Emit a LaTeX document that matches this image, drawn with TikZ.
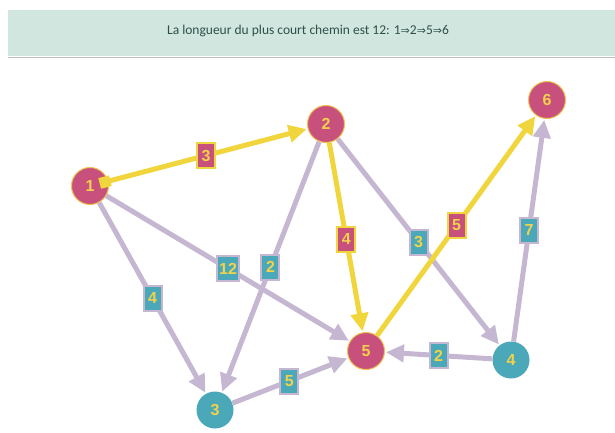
\documentclass[tikz,border=0pt]{standalone}
\usepackage{fontspec}
\setmainfont{Liberation Sans}
\newfontfamily\headfont{Carlito}
\newfontfamily\arrowfont{DejaVu Sans}
\usetikzlibrary{arrows.meta}
\definecolor{bandgreen}{HTML}{D0E6DF}
\definecolor{bandline}{HTML}{BDBDBD}
\definecolor{headtext}{HTML}{2F4F4A}
\definecolor{vred}{HTML}{C8507C}
\definecolor{vteal}{HTML}{4BA8B8}
\definecolor{vyellow}{HTML}{F2D14B}
\definecolor{eyellow}{HTML}{F0D63C}
\definecolor{egray}{HTML}{C5B7D1}
\definecolor{redring}{HTML}{F2C14E}
\newcommand\impl{{\arrowfont\fontsize{11}{12}\selectfont ⇒}}
\tikzset{
  vtx/.style={circle, minimum size=37pt, inner sep=0pt, text=vyellow,
    font=\fontsize{16}{16}\selectfont\bfseries},
  onpath/.style={vtx, fill=vred, draw=redring, line width=1pt},
  offpath/.style={vtx, fill=vteal},
  edge/.style={line width=5pt, draw=egray,
    -{Triangle[length=18pt,width=17pt]}, shorten >=1pt},
  pathedge/.style={line width=5pt, draw=eyellow,
    -{Triangle[length=18pt,width=17pt]}, shorten >=1pt},
  wlabel/.style={rectangle, inner sep=2pt, minimum width=18pt, minimum height=25pt,
    text=vyellow, font=\fontsize{16}{16}\selectfont\bfseries, line width=2pt},
  wgray/.style={wlabel, fill=vteal, draw=egray},
  wpath/.style={wlabel, fill=vred, draw=eyellow},
}
\begin{document}
\begin{tikzpicture}[x=1pt,y=-1pt]
\useasboundingbox (0,0) rectangle (615,432);
% result banner
\fill[bandgreen] (8,10) rectangle (615,56);
\draw[bandline, line width=1.5pt] (8,57.5) -- (615,57.5);
\node[text=headtext, font=\headfont\fontsize{13.5}{15}\selectfont, inner sep=0pt] (banner) at (308,31)
  {La longueur du plus court chemin est 12: 1\impl2\impl5\impl6};
% vertices
\node[onpath]  (n1) at (90,186)  {1};
\node[onpath]  (n2) at (326,124) {2};
\node[offpath] (n3) at (215,410) {3};
\node[offpath] (n4) at (511,360) {4};
\node[onpath]  (n5) at (366,351) {5};
\node[onpath]  (n6) at (547,100) {6};
% weighted edges not on the shortest path
\draw[edge] (n1) -- (n5) node[wgray, pos=0.5] (w15) {12};
\draw[edge] (n1) -- (n3) node[wgray, pos=0.5] (w13) {4};
\draw[edge] (n2) -- (n3) node[wgray, pos=0.5] (w23) {2};
\draw[edge] (n2) -- (n4) node[wgray, pos=0.5] (w24) {3};
\draw[edge] (n4) -- (n6) node[wgray, pos=0.5] (w46) {7};
\draw[edge] (n4) -- (n5) node[wgray, pos=0.5] (w45) {2};
\draw[edge] (n3) -- (n5) node[wgray, pos=0.49] (w35) {5};
% shortest path 1 -> 2 -> 5 -> 6
\draw[pathedge, {Square[length=11pt,width=11pt]}-{Triangle[length=18pt,width=17pt]}, shorten <=-9pt]
  (n1) -- (n2) node[wpath, pos=0.49] (w12) {3};
\draw[pathedge] (n2) -- (n5) node[wpath, pos=0.51] (w25) {4};
\draw[pathedge] (n5) -- (n6) node[wpath, pos=0.5] (w56) {5};
\end{tikzpicture}
\end{document}
